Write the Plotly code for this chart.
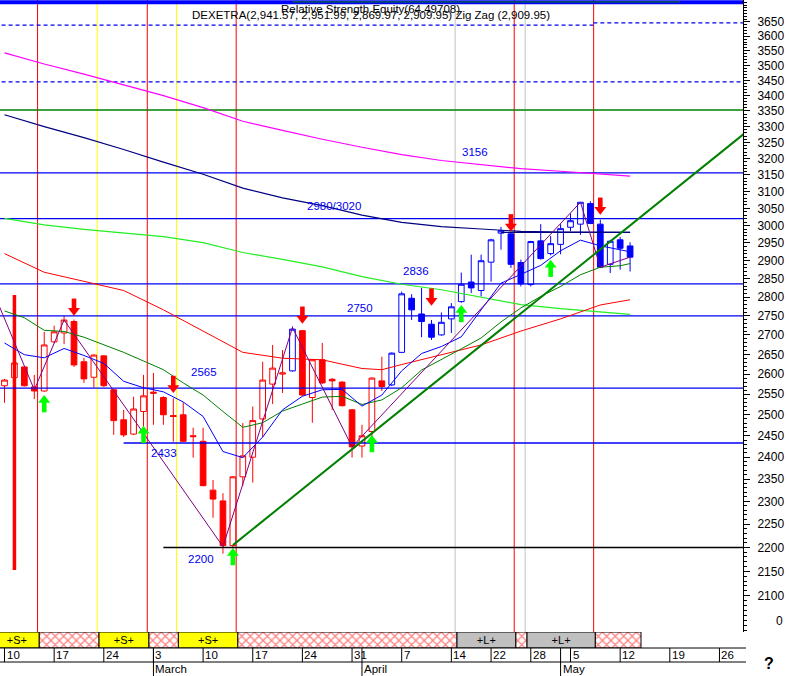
import math
import pandas as pd
import plotly.graph_objects as go

# ---------------- trading calendar (2014) ----------------
holidays = ["2014-04-18", "2014-04-21", "2014-05-01"]
bdays = pd.bdate_range("2014-02-10", "2014-05-30")
trading_days = [d for d in bdays if d.strftime("%Y-%m-%d") not in holidays]

# ---------------- price data (DEXETRA daily) ----------------
opens = [2571, 2591, 2618, 2568, 2558, 2682, 2705, 2735, 2631, 2592,
         2646, 2561, 2488, 2454, 2508, 2552, 2542, 2498, 2500, 2450,
         2437, 2325, 2301, 2204, 2355, 2400, 2490, 2575, 2600, 2608,
         2711, 2542, 2636, 2587, 2580, 2512, 2426, 2460, 2583, 2573,
         2655, 2797, 2755, 2728, 2700, 2742, 2788, 2841, 2818, 2896,
         2978, 2976, 2895, 2834, 2956, 2920, 2946, 2995, 3004, 3064,
         3004, 2890, 2959, 2941.57]
highs = [2588, 2636, 2620, 2598, 2708, 2724, 2750, 2740, 2641, 2650,
         2648, 2561, 2512, 2544, 2598, 2603, 2545, 2540, 2530, 2469,
         2469, 2348, 2318, 2357, 2480, 2520, 2631, 2674, 2661, 2722,
         2713, 2637, 2679, 2590, 2582, 2514, 2476, 2592, 2644, 2655,
         2815, 2808, 2825, 2739, 2759, 2784, 2867, 2917, 2917, 2962,
         2996, 2978, 2903, 2956, 3004, 2970, 3004, 3035, 3068, 3071,
         3017, 2959, 2967, 2951.99]
lows = [2529, 2585, 2569, 2538, 2556, 2678, 2676, 2618, 2578, 2566,
        2568, 2452, 2447, 2452, 2471, 2476, 2476, 2436, 2436, 2399,
        2334, 2264, 2187, 2198, 2334, 2342, 2447, 2526, 2553, 2606,
        2546, 2481, 2575, 2512, 2520, 2399, 2399, 2440, 2558, 2570,
        2653, 2739, 2694, 2687, 2698, 2705, 2785, 2811, 2802, 2842,
        2931, 2880, 2829, 2829, 2903, 2915, 2918, 2984, 2973, 3004,
        2880, 2866, 2875, 2869.97]
closes = [2585, 2628, 2571, 2558, 2674, 2708, 2739, 2623, 2588, 2648,
          2571, 2486, 2452, 2514, 2546, 2555, 2500, 2496, 2437, 2448,
          2335, 2305, 2204, 2355, 2403, 2486, 2585, 2615, 2603, 2715,
          2548, 2636, 2578, 2583, 2522, 2424, 2450, 2590, 2569, 2653,
          2809, 2766, 2735, 2694, 2733, 2774, 2835, 2825, 2900, 2959,
          2985, 2890, 2836, 2954, 2906, 2948, 2991, 3014, 3068, 3006,
          2882, 2955, 2935, 2909.95]
# trend state of each bar ('dn' = red bars, 'up' = blue bars)
trend = ["dn"] * 29 + ["up"] + ["dn"] * 9 + ["up"] * 25

# bad-tick spike
spike_idx = [1, 1]
spike_val = [2806, 2153]

# ---------------- moving averages ----------------
long_idx = [0, 4, 8, 12, 16, 20, 24, 28, 32, 36, 40, 44, 48, 52, 56, 60, 63]
ma_magenta = [3543, 3505, 3471, 3436, 3400, 3361, 3317, 3288, 3260, 3235,
              3212, 3194, 3181, 3169, 3161, 3152, 3146]
ma_navy = [3338, 3300, 3265, 3228, 3189, 3152, 3110, 3081, 3058, 3030,
           3009, 2997, 2990, 2983, 2981, 2980, 2980]
ma_lime = [3021, 3002, 2989, 2979, 2968, 2951, 2923, 2904, 2883, 2856,
           2835, 2820, 2800, 2780, 2769, 2761, 2754]
red_idx = [0, 4, 8, 12, 16, 20, 24, 28, 32, 36, 38, 40, 44, 48, 52, 56, 60, 63]
ma_red = [2920, 2868, 2843, 2818, 2766, 2709, 2655, 2640, 2636, 2614,
          2611, 2624, 2649, 2674, 2710, 2742, 2779, 2793]
short_idx = list(range(0, 63, 2)) + [63]
ma_dkgreen = [2763, 2745, 2712, 2709, 2694, 2675, 2655, 2633, 2611, 2578,
              2548, 2508, 2470, 2481, 2509, 2526, 2543, 2545, 2525, 2536,
              2566, 2610, 2636, 2664, 2692, 2734, 2771, 2802, 2829, 2861,
              2882, 2886, 2892]
ma_blue = [2679, 2649, 2641, 2665, 2647, 2627, 2582, 2566, 2556, 2531,
           2496, 2413, 2399, 2447, 2512, 2545, 2561, 2562, 2521, 2548,
           2608, 2652, 2670, 2695, 2766, 2838, 2862, 2887, 2928, 2958,
           2942, 2930, 2925]

# zig zag pivots
zz_idx = [-1, 3, 6, 22, 29, 35, 58, 60, 63]
zz_val = [2806, 2561, 2739, 2202, 2719, 2424, 3068, 2882, 2909.95]

# support trend line
tl_idx = [23, 76]
tl_val = [2205, 3316]

# horizontal price levels
level_vals = [3156, 3020, 2980, 2836, 2750, 2565, 2433, 2200]
level_from = [-1, -1, 50, -1, -1, -1, 12, 16]
level_to = [80, 80, 63, 80, 80, 80, 80, 80]
level_labels = ["3156", "2980/3020", "2836", "2750", "2565", "2433", "2200"]
label_levels = [3156, 3020, 2836, 2750, 2565, 2433, 2200]
label_idx = [47.4, 33.2, 41.4, 35.75, 20.1, 16.1, 19.8]

# other reference lines
dash_hi_a = 3639
dash_hi_b = 3647
dash_mid = 3445
green_level = 3353
top_blue = 3720
top_green = 3721

# signals (arrows)
sell_idx = [7, 17, 30, 43, 51, 60]
sell_tip = [2750, 2553, 2729, 2777, 2983, 3031]
buy_idx = [4, 14, 23, 37, 46, 55]
buy_tip = [2548, 2474, 2199, 2452, 2779, 2903]

# signal strip
strip_bounds = [-1, 3.5, 9.5, 14.55, 17.5, 23.5, 45.55, 51.5, 52.6, 59.5, 64.1]
strip_state = ["S", "X", "S", "X", "S", "X", "L", "X", "L", "X"]

# y axis ticks
ytick_vals = list(range(2050, 3651, 50))
ytick_text = ["" if v == 2050 else str(v) for v in ytick_vals]

# ---------------- layout constants ----------------
W, H = 789, 676
PLOT_W = 743
PLOT_H = 648
STRIP_H = 16
Y_BOT, Y_TOP = 2028, 3728
PRICE_H = PLOT_H - STRIP_H
PPD = PRICE_H / (math.log10(Y_TOP) - math.log10(Y_BOT))
PX_DAY = 9.93
X0 = -4.5 / PX_DAY
X1 = X0 + PLOT_W / PX_DAY

FONT = "Liberation Sans, Arial, sans-serif"
BLUE = "#0000F0"


def shift(v, px):
    """move value v up by px screen pixels on the log axis"""
    return v * 10 ** (px / PPD)


fig = go.Figure()

# ---- candles ----
for tr, col in (("dn", "#FF0000"), ("up", "#0000FF")):
    ids = [i for i in range(len(opens)) if trend[i] == tr]
    fig.add_trace(go.Candlestick(
        x=ids,
        open=[opens[i] for i in ids], high=[highs[i] for i in ids],
        low=[lows[i] for i in ids], close=[closes[i] for i in ids],
        increasing=dict(line=dict(color=col, width=1), fillcolor="white"),
        decreasing=dict(line=dict(color=col, width=1), fillcolor=col),
        whiskerwidth=0, hoverinfo="skip", showlegend=False))


def line(x, y, color, width=1, dash=None):
    fig.add_trace(go.Scatter(x=x, y=y, mode="lines",
                             line=dict(color=color, width=width, dash=dash),
                             hoverinfo="skip", showlegend=False))


# spike
line(spike_idx, spike_val, "#FF0000", 3.5)

# top decorations and horizontal lines
line([-1, 80], [top_blue, top_blue], "#0000FF", 4)
line([29, 68], [top_green, top_green], "#008000", 1)
line([-1, 59.3], [dash_hi_a, dash_hi_a], BLUE, 1.2, "4px,3px")
line([59.3, 80], [dash_hi_b, dash_hi_b], BLUE, 1.2, "4px,3px")
line([-1, 80], [dash_mid, dash_mid], BLUE, 1.2, "4px,3px")
line([-1, 80], [green_level, green_level], "#008000", 1.5)
for v, a, b in zip(level_vals, level_from, level_to):
    col = "#000000" if v == 2200 else ("#000080" if v == 2980 else BLUE)
    line([a, b], [v, v], col, 1.3)

# moving averages
line(long_idx, ma_magenta, "#FF00FF", 1.2)
line(long_idx, ma_navy, "#000080", 1.2)
line(long_idx, ma_lime, "#22EE22", 1.2)
line(red_idx, ma_red, "#FF0000", 1)
line(short_idx, ma_dkgreen, "#008000", 1)
line(short_idx, ma_blue, "#0000FF", 1)

# zig zag and trend line
line(zz_idx, zz_val, "#800080", 1)
line(tl_idx, tl_val, "#008000", 2)

# ---- arrows ----
R_HEAD = 5.2


def arrows(idx, tips, color, down):
    sgn = 1 if down else -1
    head_y = [shift(t, sgn * R_HEAD) for t in tips]
    shaft_y = [shift(t, sgn * 11.4) for t in tips]
    fig.add_trace(go.Scatter(
        x=idx, y=shaft_y, mode="markers",
        marker=dict(symbol="line-ns", size=8.4,
                    line=dict(color=color, width=4.6)),
        hoverinfo="skip", showlegend=False))
    fig.add_trace(go.Scatter(
        x=idx, y=head_y, mode="markers",
        marker=dict(symbol="triangle-down" if down else "triangle-up",
                    size=10.4, color=color, line=dict(width=0)),
        hoverinfo="skip", showlegend=False))


arrows(sell_idx, sell_tip, "#FF0000", True)
arrows(buy_idx, buy_tip, "#00FF00", False)

# ---- signal strip (bars on the strip axis) ----
fill = {"S": "#FFFF00", "L": "#C0C0C0", "X": "white"}
txt = {"S": "+S+", "L": "+L+", "X": ""}
for k in ("S", "L", "X"):
    segs = [j for j, s in enumerate(strip_state) if s == k]
    fig.add_trace(go.Bar(
        orientation="h",
        base=[strip_bounds[j] for j in segs],
        x=[strip_bounds[j + 1] - strip_bounds[j] for j in segs],
        y=[0.5] * len(segs), width=1,
        text=[txt[k]] * len(segs), textposition="inside",
        insidetextanchor="middle", constraintext="none",
        textfont=dict(family=FONT, size=11, color="black"),
        marker=dict(color=fill[k], line=dict(color="black", width=1),
                    pattern=dict(shape="x", fgcolor="#FF0000", bgcolor="white",
                                 size=6, solidity=0.38) if k == "X" else None),
        xaxis="x", yaxis="y2", hoverinfo="skip", showlegend=False))

# ---- shapes: signal verticals, date rows ----
shapes = []
line_col = {"S": "#FFFF00", "L": "#C0C0C0", "X": "#FF0000"}
for b, s in zip(strip_bounds[1:-1], strip_state[1:]):
    xb = b - 0.17
    shapes.append(dict(type="line", xref="x", yref="y domain", x0=xb, x1=xb,
                       y0=0, y1=1, line=dict(color=line_col[s], width=1),
                       layer="below"))
row1 = -14 / PLOT_H
row2 = -28 / PLOT_H
for yy in (0, row1):
    shapes.append(dict(type="line", xref="paper", yref="paper", x0=0,
                       x1=746 / PLOT_W, y0=yy, y1=yy,
                       line=dict(color="black", width=1)))

# weekly ticks and month separators
week_first = []
month_first = []
for i, d in enumerate(trading_days):
    if i == 0 or d.isocalendar()[1] != trading_days[i - 1].isocalendar()[1]:
        week_first.append(i)
    if i > 0 and d.month != trading_days[i - 1].month:
        month_first.append(i)
annotations = []
for i in week_first:
    shapes.append(dict(type="line", xref="x", yref="paper", x0=i, x1=i,
                       y0=0, y1=row1, line=dict(color="black", width=1)))
    annotations.append(dict(xref="x", yref="paper", x=i, y=row1 / 2,
                            text=str(trading_days[i].day), showarrow=False,
                            xanchor="left", yanchor="middle", xshift=0,
                            font=dict(family=FONT, size=11.5, color="black")))
for i in month_first:
    shapes.append(dict(type="line", xref="x", yref="paper", x0=i, x1=i,
                       y0=0, y1=row2, line=dict(color="black", width=1)))
    annotations.append(dict(xref="x", yref="paper", x=i, y=(row1 + row2) / 2,
                            text=trading_days[i].strftime("%B"), showarrow=False,
                            xanchor="left", yanchor="middle", xshift=0,
                            font=dict(family=FONT, size=11.5, color="black")))

# level labels
label_shift = [20.5, 13, 13, 8, 16, -10, -11.5]
for t, v, xi, ys in zip(level_labels, label_levels, label_idx, label_shift):
    annotations.append(dict(xref="x", yref="y", x=xi, y=math.log10(v),
                            yshift=ys, text=t, showarrow=False,
                            xanchor="center", yanchor="middle",
                            font=dict(family=FONT, size=11.5, color=BLUE)))

# header texts
annotations.append(dict(xref="paper", yref="paper", x=371 / PLOT_W,
                        y=(PLOT_H - 15) / PLOT_H,
                        text="DEXETRA(2,941.57, 2,951.99, 2,869.97, 2,909.95) Zig Zag (2,909.95)",
                        showarrow=False, xanchor="center", yanchor="middle",
                        font=dict(family=FONT, size=11.5, color="black")))
annotations.append(dict(xref="paper", yref="paper", x=370 / PLOT_W,
                        y=(PLOT_H - 9) / PLOT_H,
                        text="Relative Strength Equity(64.49708)",
                        showarrow=False, xanchor="center", yanchor="middle",
                        font=dict(family=FONT, size=11.5, color="black")))
# clipped "0" axis label and corner mark
annotations.append(dict(xref="paper", yref="y", x=785 / PLOT_W,
                        y=math.log10(2050), text="0", showarrow=False,
                        xanchor="right", yanchor="middle",
                        font=dict(family=FONT, size=12, color="black")))
annotations.append(dict(xref="paper", yref="paper", x=769 / PLOT_W,
                        y=(PLOT_H - 663.5) / PLOT_H, text="<b>?</b>",
                        showarrow=False, xanchor="center", yanchor="middle",
                        font=dict(family=FONT, size=16, color="black")))

fig.update_layout(
    width=W, height=H,
    margin=dict(l=0, r=W - PLOT_W, t=0, b=H - PLOT_H, pad=0),
    paper_bgcolor="white", plot_bgcolor="white",
    showlegend=False, boxgap=0.18, barmode="overlay",
    shapes=shapes, annotations=annotations,
    xaxis=dict(range=[X0, X1], showticklabels=False, ticks="",
               showgrid=False, zeroline=False, showline=False,
               rangeslider=dict(visible=False), fixedrange=True),
    yaxis=dict(type="log", range=[math.log10(Y_BOT), math.log10(Y_TOP)],
               domain=[STRIP_H / PLOT_H, 1], side="right",
               showline=True, linecolor="black", linewidth=1,
               ticks="outside", ticklen=6, tickcolor="black",
               tickvals=ytick_vals, ticktext=ytick_text,
               tickfont=dict(family=FONT, size=12, color="black"),
               ticklabelstandoff=5,
               minor=dict(tickvals=list(range(2030, 3730, 10)), ticks="outside",
                          ticklen=3, tickcolor="black", showgrid=False),
               showgrid=False, zeroline=False, automargin=False),
    yaxis2=dict(domain=[0, STRIP_H / PLOT_H], range=[0, 1], visible=False,
                anchor="x", fixedrange=True),
)

fig.write_html("out.html",
               config={"displayModeBar": False},
               post_script="document.body.style.margin='0';"
                           "document.body.style.overflow='hidden';")
